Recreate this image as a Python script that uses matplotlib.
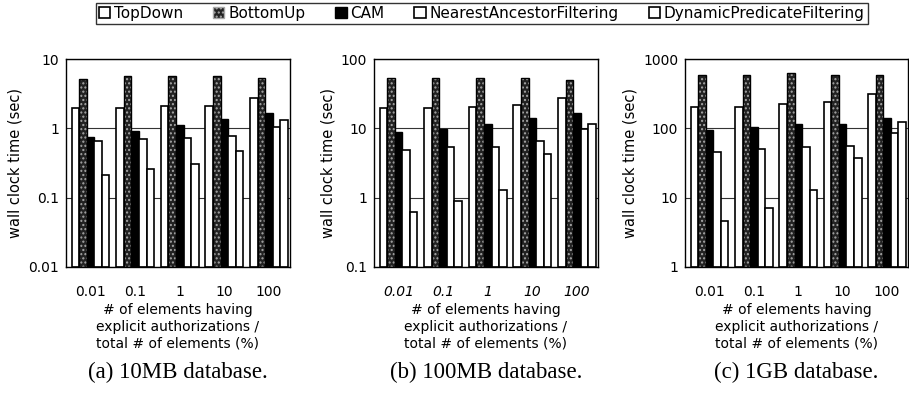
import matplotlib.pyplot as plt
import numpy as np

# x categories (% of elements having explicit authorizations)
categories = ["0.01", "0.1", "1", "10", "100"]
methods = ["TopDown", "BottomUp", "CAM", "NearestAncestorFiltering", "DynamicPredicateFiltering"]

# (a) 10MB database, wall clock time (sec)
td_10mb = [1.95, 1.95, 2.1, 2.1, 2.75]
bu_10mb = [5.1, 5.6, 5.6, 5.6, 5.3]
cam_10mb = [0.74, 0.89, 1.12, 1.35, 1.68]
naf_10mb = [0.64, 0.69, 0.72, 0.76, 1.05]
dpf_10mb = [0.20, 0.245, 0.30, 0.46, 1.29]

# (b) 100MB database
td_100mb = [19.8, 19.5, 20.2, 21.9, 27.0]
bu_100mb = [52.7, 52.7, 52.7, 52.7, 50.0]
cam_100mb = [8.7, 9.6, 11.4, 14.2, 16.3]
naf_100mb = [4.7, 5.3, 5.3, 6.4, 9.6]
dpf_100mb = [0.52, 0.80, 1.19, 4.1, 11.4]

# (c) 1GB database
td_1gb = [200, 200, 225, 236, 308]
bu_1gb = [588, 588, 620, 588, 588]
cam_1gb = [94, 105, 113, 115, 142]
naf_1gb = [44.7, 49, 52, 55, 84]
dpf_1gb = [3.6, 6.0, 11.7, 36, 121]

panels = [
    ([td_10mb, bu_10mb, cam_10mb, naf_10mb, dpf_10mb], (0.01, 10), ["0.01", "0.1", "1", "10"], "(a) 10MB database."),
    ([td_100mb, bu_100mb, cam_100mb, naf_100mb, dpf_100mb], (0.1, 100), ["0.1", "1", "10", "100"], "(b) 100MB database."),
    ([td_1gb, bu_1gb, cam_1gb, naf_1gb, dpf_1gb], (1, 1000), ["1", "10", "100", "1000"], "(c) 1GB database."),
]

sans = "DejaVu Sans"
serif = "Liberation Serif"

fig = plt.figure(figsize=(9.09, 3.96), dpi=100)

lefts = [0.0726, 0.4114, 0.7536]
widths = [0.2464, 0.2464, 0.2453]
bottom = 0.326
height = 0.525

x = np.arange(len(categories))
bw = 0.17

for i, (series, ylim, yticks, caption) in enumerate(panels):
    ax = fig.add_axes([lefts[i], bottom, widths[i], height])
    ax.set_yscale("log")
    ax.set_ylim(*ylim)
    ax.set_xlim(-0.55, 4.47)

    # horizontal grid lines behind the bars
    ax.set_axisbelow(True)
    ax.yaxis.grid(True, which="major", color="#333333", linewidth=0.8)
    ax.minorticks_off()

    for j, vals in enumerate(series):
        pos = x + (j - 2) * bw
        if j == 1:
            # dark bar with a light dotted pattern
            ax.bar(pos, vals, bw, bottom=ylim[0], color="#222222", hatch="....",
                   edgecolor="#a8a8a8", linewidth=0)
            ax.bar(pos, vals, bw, bottom=ylim[0], facecolor="none",
                   edgecolor="black", linewidth=1.0)
        elif j == 2:
            ax.bar(pos, vals, bw, bottom=ylim[0], color="black",
                   edgecolor="black", linewidth=1.0)
        else:
            ax.bar(pos, vals, bw, bottom=ylim[0], color="white",
                   edgecolor="black", linewidth=1.2)

    ax.set_yticks([float(t) for t in yticks])
    ax.set_yticklabels(yticks, fontsize=10, family=sans)
    ax.set_xticks(x)
    # the middle panel's tick labels are slanted in the reference
    ax.set_xticklabels(categories, fontsize=10, family=sans,
                       style="italic" if i == 1 else "normal")
    ax.tick_params(axis="x", length=0, pad=13)
    ax.tick_params(axis="y", length=0, pad=5)
    for s in ax.spines.values():
        s.set_linewidth(1.0)

    ax.set_ylabel("wall clock time (sec)", fontsize=10.5, family=sans, labelpad=4)
    ax.set_xlabel("# of elements having\nexplicit authorizations /\ntotal # of elements (%)",
                  fontsize=10, family=sans, linespacing=1.25, labelpad=3)

    # caption under each panel
    fig.text(lefts[i] + widths[i] / 2, 0.045, caption, ha="center", va="baseline",
             fontsize=16.5, family=serif)

# legend across the top
leg_handles = [
    plt.Rectangle((0, 0), 1, 1, facecolor="white", edgecolor="black", linewidth=1.2),
    plt.Rectangle((0, 0), 1, 1, facecolor="#222222", edgecolor="#a8a8a8", hatch="....", linewidth=1.0),
    plt.Rectangle((0, 0), 1, 1, facecolor="black", edgecolor="black", linewidth=1.0),
    plt.Rectangle((0, 0), 1, 1, facecolor="white", edgecolor="black", linewidth=1.2),
    plt.Rectangle((0, 0), 1, 1, facecolor="white", edgecolor="black", linewidth=1.2),
]
leg = fig.legend(leg_handles, methods, loc="upper center", bbox_to_anchor=(0.530, 0.993),
                 ncol=5, frameon=True, fancybox=False, edgecolor="black",
                 prop={"family": sans, "size": 11}, handlelength=0.75, handleheight=0.75,
                 handletextpad=0.25, columnspacing=1.95, borderpad=0.2, borderaxespad=0.0)
leg.get_frame().set_linewidth(1.0)

fig.savefig("out.png", dpi=100)
